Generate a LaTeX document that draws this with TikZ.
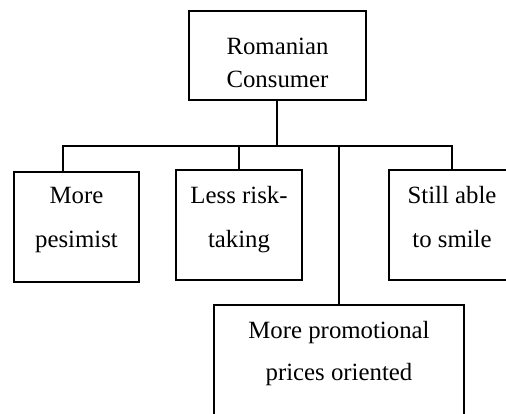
\documentclass[tikz,border=0pt]{standalone}
\usepackage{fontspec}
\setmainfont{Liberation Serif}
\usepackage{tikz}
\usetikzlibrary{positioning,calc}

\begin{document}
\begin{tikzpicture}[
  x=1pt, y=-1pt,
  box/.style={draw, line width=1.5pt, inner sep=0pt, outer sep=0pt},
  label/.style={anchor=north, inner sep=0pt, align=center},
  link/.style={line width=1.5pt}
]
  \useasboundingbox (0,0) rectangle (506,413);
  \clip (0,0) rectangle (506,413);

  \node[box, minimum width=177pt, minimum height=89pt] (cons) at (277.5,55.5) {};
  \node[label, font={\fontsize{24.8}{33}\selectfont}] (consT) at (277.5,38) {Romanian\\Consumer};

  \node[box, minimum width=125pt, minimum height=110pt] (pes) at (76.5,227) {};
  \node[box, minimum width=126pt, minimum height=110pt] (risk) at (239,225) {};
  \node[box, minimum width=126pt, minimum height=110pt] (smile) at (452,225) {};
  \node[box, minimum width=250pt, minimum height=130pt] (promo) at (339,370) {};

  \node[label, font={\fontsize{24.8}{44}\selectfont}] (pesT) at (76.5,187.5) {More\\pesimist};
  \node[label, font={\fontsize{24.8}{44}\selectfont}] (riskT) at (239,186) {Less risk-\\taking};
  \node[label, font={\fontsize{24.8}{44}\selectfont}] (smileT) at (452,186) {Still able\\to smile};
  \node[label, font={\fontsize{24.8}{42}\selectfont}] (promoT) at (339,321) {More promotional\\prices oriented};

  % tree lines
  \coordinate (hub) at (277,146);
  \coordinate (jl) at (63,146);
  \coordinate (jr) at (452,146);
  \draw[link] (hub |- cons.south) -- (hub);
  \draw[link] (jl |- pes.north) -- (jl) -- (jr) -- (smile.north);
  \draw[link] (risk.north) -- (risk.north |- jl);
  \draw[link] (promo.north) -- (promo.north |- jl);
\end{tikzpicture}
\end{document}
